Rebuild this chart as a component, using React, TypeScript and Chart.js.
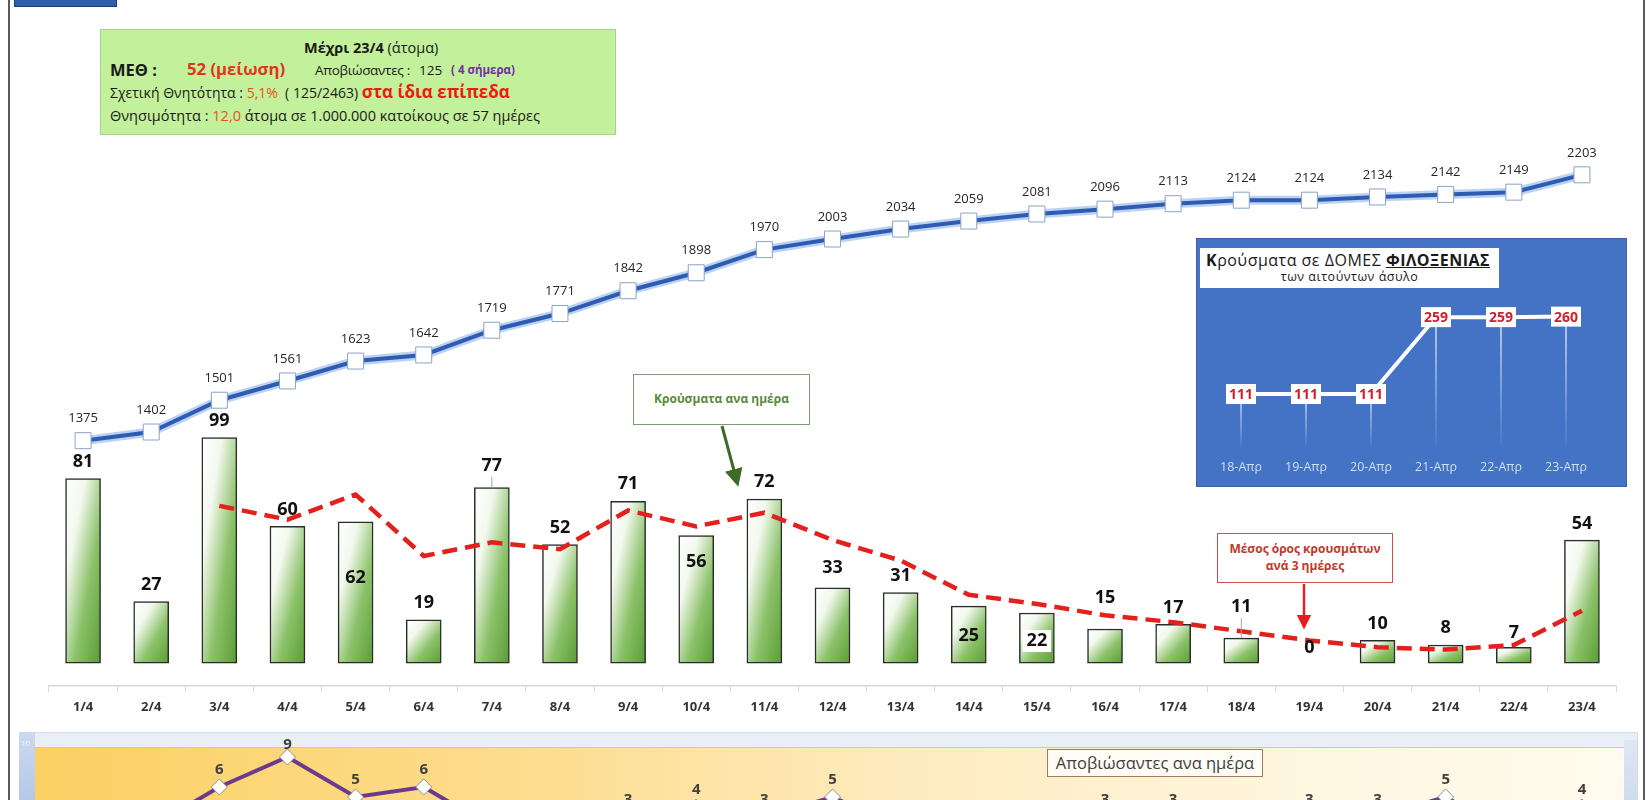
import React, { useEffect, useRef } from 'react';
import { Chart, registerables } from 'chart.js';

Chart.register(...registerables);

const FONT = "'Open Sans', 'Noto Sans', 'DejaVu Sans', sans-serif";

// ---------- data ----------
const dates = ['1/4', '2/4', '3/4', '4/4', '5/4', '6/4', '7/4', '8/4', '9/4', '10/4', '11/4', '12/4',
  '13/4', '14/4', '15/4', '16/4', '17/4', '18/4', '19/4', '20/4', '21/4', '22/4', '23/4'];
const cumulativeCases = [1375, 1402, 1501, 1561, 1623, 1642, 1719, 1771, 1842, 1898, 1970, 2003,
  2034, 2059, 2081, 2096, 2113, 2124, 2124, 2134, 2142, 2149, 2203];
const dailyCases = [81, 27, 99, 60, 62, 19, 77, 52, 71, 56, 72, 33, 31, 25, 22, 15, 17, 11, 0, 10, 8, 7, 54];
const avgThreeDays = [null, null, 69, 63, 74, 47, 53, 50, 67, 60, 66, 54, 45, 30, 26, 21, 18, 14, 10, 7, 6, 8, 23];
const dailyDeaths = [2, 2, 6, 9, 5, 6, 2, 1, 3, 4, 3, 5, 2, 1, 1, 3, 3, 2, 3, 3, 5, 1, 4];
const hostLabels = ['18-Απρ', '19-Απρ', '20-Απρ', '21-Απρ', '22-Απρ', '23-Απρ'];
const hostCases = [111, 111, 111, 259, 259, 260];

// ---------- label styling (pixel shifts of value labels; negative = above the mark) ----------
const barLabelShift: Record<number, number> = { 4: 56, 6: -22, 9: 26, 11: -20, 13: 30, 14: 28, 15: -31, 17: -31, 18: -15, 21: -14, 22: -16 };
const barLabelLeader: Record<number, boolean> = { 6: true, 17: true };
const barLabelBoxed: Record<number, boolean> = { 14: true };
const deathLabelShift: Record<number, number> = { 3: -12 };

const barFill = (c: any) => {
  const chart = c.chart;
  if (c.type !== 'data' || !chart.chartArea) return '#6aa84f';
  const xs = chart.scales.x;
  const ys = chart.scales.yBar;
  const x = xs.getPixelForValue(c.dataIndex);
  const top = ys.getPixelForValue(c.raw);
  const base = ys.getPixelForValue(0);
  const W = 35;
  const H = Math.max(1, base - top);
  const x0 = x - W / 2;
  const k = (2 * W * H) / (W * W + H * H);
  const g = chart.ctx.createLinearGradient(x0, top, x0 + H * k, top + W * k);
  g.addColorStop(0, '#ffffff');
  g.addColorStop(0.28, '#f3f9ee');
  g.addColorStop(0.62, '#8cc26a');
  g.addColorStop(1, '#5a9c36');
  return g;
};

const mainLabelsPlugin = {
  id: 'mainLabels',
  afterDatasetsDraw(chart: any) {
    const ctx = chart.ctx;
    ctx.save();
    const lineMeta = chart.getDatasetMeta(0);
    ctx.font = `13px ${FONT}`;
    ctx.fillStyle = '#262626';
    ctx.textAlign = 'center';
    ctx.textBaseline = 'middle';
    lineMeta.data.forEach((el: any, i: number) => {
      ctx.fillText(String(cumulativeCases[i]), el.x, el.y - 22);
    });
    const barMeta = chart.getDatasetMeta(3);
    ctx.font = `bold 18px ${FONT}`;
    barMeta.data.forEach((el: any, i: number) => {
      const shift = barLabelShift[i] !== undefined ? barLabelShift[i] : -17;
      const y = el.y + shift;
      const txt = String(dailyCases[i]);
      if (barLabelBoxed[i]) {
        const w = ctx.measureText(txt).width + 8;
        ctx.fillStyle = '#ffffff';
        ctx.fillRect(el.x - w / 2, y - 11, w, 22);
      }
      if (barLabelLeader[i]) {
        ctx.strokeStyle = '#a6a6a6';
        ctx.lineWidth = 1;
        ctx.beginPath();
        ctx.moveTo(el.x, y + 11);
        ctx.lineTo(el.x, el.y);
        ctx.stroke();
      }
      ctx.fillStyle = '#111111';
      ctx.fillText(txt, el.x, y);
    });
    ctx.restore();
  },
};

const deathLabelsPlugin = {
  id: 'deathLabels',
  afterDatasetsDraw(chart: any) {
    const ctx = chart.ctx;
    ctx.save();
    ctx.font = `bold 15px ${FONT}`;
    ctx.fillStyle = '#404040';
    ctx.textAlign = 'center';
    ctx.textBaseline = 'middle';
    chart.getDatasetMeta(0).data.forEach((el: any, i: number) => {
      const s = deathLabelShift[i] !== undefined ? deathLabelShift[i] : -17;
      ctx.fillText(String(dailyDeaths[i]), el.x, el.y + s);
    });
    ctx.restore();
  },
};

const hostPlugin = {
  id: 'hostDecor',
  beforeDatasetsDraw(chart: any) {
    const ctx = chart.ctx;
    const bottom = chart.chartArea.bottom;
    ctx.save();
    chart.getDatasetMeta(0).data.forEach((el: any) => {
      const g = ctx.createLinearGradient(0, el.y, 0, bottom);
      g.addColorStop(0, 'rgba(255,255,255,0.85)');
      g.addColorStop(1, 'rgba(255,255,255,0.05)');
      ctx.strokeStyle = g;
      ctx.lineWidth = 1.5;
      ctx.beginPath();
      ctx.moveTo(el.x, el.y);
      ctx.lineTo(el.x, bottom);
      ctx.stroke();
    });
    ctx.restore();
  },
  afterDatasetsDraw(chart: any) {
    const ctx = chart.ctx;
    ctx.save();
    ctx.font = `bold 14px ${FONT}`;
    ctx.textAlign = 'center';
    ctx.textBaseline = 'middle';
    chart.getDatasetMeta(0).data.forEach((el: any, i: number) => {
      ctx.fillStyle = '#ffffff';
      ctx.fillRect(el.x - 15, el.y - 10, 30, 20);
      ctx.fillStyle = '#d0202a';
      ctx.fillText(String(hostCases[i]), el.x, el.y + 1);
    });
    ctx.restore();
  },
};

export default function App() {
  const mainRef = useRef<HTMLCanvasElement>(null);
  const deathsRef = useRef<HTMLCanvasElement>(null);
  const hostRef = useRef<HTMLCanvasElement>(null);

  useEffect(() => {
    document.body.style.margin = '0';
    const charts: Chart[] = [];

    if (mainRef.current) {
      charts.push(new Chart(mainRef.current, {
        type: 'bar',
        data: {
          labels: dates,
          datasets: [
            {
              type: 'line', label: 'Σύνολο κρουσμάτων', data: cumulativeCases, yAxisID: 'yLine',
              borderColor: '#2d5cb2', borderWidth: 4, tension: 0,
              pointStyle: 'rect', pointRadius: 11.3, pointBackgroundColor: '#ffffff',
              pointBorderColor: '#8aa3c8', pointBorderWidth: 1, order: 0,
            },
            {
              type: 'line', label: 'glow', data: cumulativeCases, yAxisID: 'yLine',
              borderColor: 'rgba(120,165,230,0.5)', borderWidth: 9, tension: 0, pointRadius: 0, order: 1,
            },
            {
              type: 'line', label: 'Μέσος όρος 3 ημερών', data: avgThreeDays, yAxisID: 'yBar',
              borderColor: '#e3201b', borderWidth: 4.5, borderDash: [15, 8], tension: 0, pointRadius: 0, order: 2,
            },
            {
              type: 'bar', label: 'Κρούσματα ανα ημέρα', data: dailyCases, yAxisID: 'yBar',
              backgroundColor: barFill, borderColor: '#2b2b2b', borderWidth: 1.5, barThickness: 35,
              borderSkipped: false, order: 3,
            },
          ] as any,
        },
        options: {
          animation: false,
          responsive: false,
          maintainAspectRatio: false,
          layout: { padding: { left: 49, right: 34, top: 100, bottom: 0 } },
          plugins: { legend: { display: false }, tooltip: { enabled: false } },
          scales: {
            x: {
              offset: true,
              grid: { display: true, drawOnChartArea: false, drawTicks: true, tickLength: 6, color: '#d9d9d9', offset: true },
              border: { display: true, color: '#d9d9d9', width: 1.5 },
              ticks: { color: '#333333', font: { family: FONT, size: 13, weight: 'bold' }, padding: 7, maxRotation: 0, autoSkip: false },
              afterFit: (s: any) => { s.height = 44; },
            },
            yBar: { type: 'linear', display: false, min: -10, max: 247 },
            yLine: { type: 'linear', display: false, min: 611, max: 2436 },
          },
        } as any,
        plugins: [mainLabelsPlugin],
      }));
    }

    if (deathsRef.current) {
      charts.push(new Chart(deathsRef.current, {
        type: 'line',
        data: {
          labels: dates,
          datasets: [{
            label: 'Αποβιώσαντες ανα ημέρα', data: dailyDeaths, borderColor: '#6b3a8e', borderWidth: 4, tension: 0,
            pointStyle: 'rectRot', pointRadius: 8, pointBackgroundColor: '#ffffff', pointBorderColor: '#8c8c8c',
            pointBorderWidth: 1, clip: false,
          }] as any,
        },
        options: {
          animation: false,
          responsive: false,
          maintainAspectRatio: false,
          layout: { padding: { left: 49, right: 34, top: 47, bottom: 53 } },
          plugins: { legend: { display: false }, tooltip: { enabled: false } },
          scales: {
            x: { display: false, offset: true },
            y: { display: false, min: 0, max: 10 },
          },
        } as any,
        plugins: [deathLabelsPlugin],
      }));
    }

    if (hostRef.current) {
      charts.push(new Chart(hostRef.current, {
        type: 'line',
        data: {
          labels: hostLabels,
          datasets: [{ label: 'Δομές φιλοξενίας', data: hostCases, borderColor: '#ffffff', borderWidth: 4, tension: 0, pointRadius: 0 }],
        },
        options: {
          animation: false,
          responsive: false,
          maintainAspectRatio: false,
          layout: { padding: { left: 12.5, right: 28.5, top: 62, bottom: 0 } },
          plugins: { legend: { display: false }, tooltip: { enabled: false } },
          scales: {
            x: {
              offset: true,
              grid: { display: false, drawTicks: false },
              border: { display: false },
              ticks: { color: '#d3def3', font: { family: FONT, size: 12.5 }, padding: 13, maxRotation: 0 },
              afterFit: (s: any) => { s.height = 40; },
            },
            y: { display: false, min: 9, max: 292 },
          },
        } as any,
        plugins: [hostPlugin],
      }));
    }

    return () => charts.forEach((c) => c.destroy());
  }, []);

  const abs = (l: number, t: number, extra: React.CSSProperties = {}): React.CSSProperties => ({
    position: 'absolute', left: l, top: t, whiteSpace: 'nowrap', lineHeight: '20px', ...extra,
  });
  const reg3: React.CSSProperties = { fontSize: 14 };
  const reg4: React.CSSProperties = { fontSize: 14.5 };

  return (
    <div style={{ position: 'absolute', left: 0, top: 0, width: 1650, height: 800, overflow: 'hidden', background: '#ffffff', fontFamily: FONT }}>
      {/* page frame */}
      <div style={{ position: 'absolute', left: 8, top: 0, width: 2, height: 800, background: '#5a5a5a' }} />
      <div style={{ position: 'absolute', left: 1643, top: 0, width: 2, height: 800, background: '#5a5a5a' }} />
      <div style={{ position: 'absolute', left: 14, top: 0, width: 101, height: 6, background: '#2f5fa8', border: '1px solid #1d3d6e', borderTop: 'none' }} />

      {/* info box */}
      <div style={{ position: 'absolute', left: 100, top: 29, width: 516, height: 106, background: '#c3f09b', border: '1px solid #a9cf8a', boxSizing: 'border-box', color: '#1a1a1a' }}>
        <div style={abs(203, 8, { fontSize: 14.5 })}><b>Μέχρι 23/4</b> (άτομα)</div>
        <div style={abs(9, 30, { fontSize: 16.5, fontWeight: 'bold' })}>ΜΕΘ :</div>
        <div style={abs(86, 29, { fontSize: 16.7, fontWeight: 'bold', color: '#e5321c' })}>52 (μείωση)</div>
        <div style={abs(214, 30, { fontSize: 13.5, letterSpacing: -0.3 })}>Αποβιώσαντες :</div>
        <div style={abs(318, 30, { fontSize: 13.5 })}>125</div>
        <div style={abs(350, 30, { fontSize: 11.5, fontWeight: 'bold', color: '#7030a0' })}>( 4 σήμερα)</div>
        <div style={abs(9, 52, {})}>
          <span style={reg3}>Σχετική Θνητότητα : </span>
          <span style={{ ...reg3, color: '#e5531f' }}>5,1%</span>
          <span style={reg3}>{'\u00a0\u00a0( 125/2463) '}</span>
          <span style={{ fontSize: 17, fontWeight: 'bold', color: '#ee1b12' }}>στα ίδια επίπεδα</span>
        </div>
        <div style={abs(9, 75, {})}>
          <span style={reg4}>Θνησιμότητα : </span>
          <span style={{ ...reg4, color: '#e5531f' }}>12,0</span>
          <span style={reg4}> άτομα σε 1.000.000 κατοίκους σε 57 ημέρες</span>
        </div>
      </div>

      {/* bottom deaths panel background */}
      <div style={{ position: 'absolute', left: 19, top: 732, width: 1619, height: 100, background: 'linear-gradient(#e9eef6, #f5f7fb)', border: '1px solid #d8dee8', boxSizing: 'border-box' }} />
      <div style={{ position: 'absolute', left: 19, top: 732, width: 16, height: 100, background: 'linear-gradient(#cbd9ee, #a9c1e6)' }} />
      <div style={{ position: 'absolute', left: 1624, top: 740, width: 13, height: 100, background: 'linear-gradient(#dfe7f3, #c4d4ec)' }} />
      <div style={{ position: 'absolute', left: 21, top: 737, fontSize: 8, color: '#f4f7fc' }}>10</div>
      <div style={{ position: 'absolute', left: 35, top: 747, width: 1589, height: 80, background: 'linear-gradient(to right, #fbd064 0%, #fddc8c 30%, #feebbf 55%, #fff6e0 80%, #fffbee 100%)', borderTop: '1px solid #e8c77a' }} />

      {/* charts */}
      <canvas ref={mainRef} width={1650} height={730} style={{ position: 'absolute', left: 0, top: 0, display: 'block' }} />
      <canvas ref={deathsRef} width={1650} height={200} style={{ position: 'absolute', left: 0, top: 700, display: 'block' }} />

      <div style={{ position: 'absolute', left: 1047, top: 749, width: 216, height: 28, boxSizing: 'border-box', border: '1.5px solid #a27d5c', background: '#fffdf6', color: '#404040', fontSize: 16.5, lineHeight: '25px', textAlign: 'center', whiteSpace: 'nowrap' }}>Αποβιώσαντες ανα ημέρα</div>

      {/* inset: hosting structures */}
      <div style={{ position: 'absolute', left: 1196, top: 238, width: 431, height: 249, background: '#4472c4', border: '1px solid #3a63ab', boxSizing: 'border-box' }}>
        <canvas ref={hostRef} width={431} height={249} style={{ position: 'absolute', left: -1, top: -1, display: 'block' }} />
        <div style={{ position: 'absolute', left: 3, top: 9, width: 299, height: 40, background: '#ffffff', color: '#1a1a1a' }}>
          <div style={{ position: 'absolute', left: 6, top: 2, fontSize: 16, lineHeight: '20px', whiteSpace: 'nowrap', letterSpacing: 0.5 }}>
            <b>Κ</b>ρούσματα σε ΔΟΜΕΣ <b style={{ textDecoration: 'underline' }}>ΦΙΛΟΞΕΝΙΑΣ</b>
          </div>
          <div style={{ position: 'absolute', left: 0, width: 299, top: 20, fontSize: 12.5, lineHeight: '18px', textAlign: 'center', whiteSpace: 'nowrap', letterSpacing: 0.5 }}>των αιτούντων άσυλο</div>
        </div>
      </div>

      {/* callouts */}
      <div style={{ position: 'absolute', left: 633, top: 374, width: 177, height: 51, boxSizing: 'border-box', border: '1.5px solid #7f9a70', background: '#ffffff', color: '#5a8a3a', fontSize: 12, fontWeight: 'bold', lineHeight: '48px', textAlign: 'center', whiteSpace: 'nowrap' }}>Κρούσματα ανα ημέρα</div>
      <div style={{ position: 'absolute', left: 1217, top: 533, width: 176, height: 50, boxSizing: 'border-box', border: '1.5px solid #c9524d', background: '#ffffff', color: '#c0392b', fontSize: 12, fontWeight: 'bold', lineHeight: '17px', textAlign: 'center', paddingTop: 6, whiteSpace: 'nowrap' }}>
        Μέσος όρος κρουσμάτων<br />ανά 3 ημέρες
      </div>
      <svg width={1650} height={800} style={{ position: 'absolute', left: 0, top: 0, pointerEvents: 'none' }}>
        <defs>
          <marker id="ag" markerWidth="6" markerHeight="6" refX="3" refY="3" orient="auto" markerUnits="strokeWidth">
            <path d="M0,0 L6,3 L0,6 z" fill="#3d6b25" />
          </marker>
          <marker id="ar" markerWidth="6" markerHeight="6" refX="3" refY="3" orient="auto" markerUnits="strokeWidth">
            <path d="M0,0 L6,3 L0,6 z" fill="#e41f1f" />
          </marker>
        </defs>
        <line x1={722} y1={426} x2={736} y2={478} stroke="#3d6b25" strokeWidth={3} markerEnd="url(#ag)" />
        <line x1={1304} y1={584} x2={1304} y2={622} stroke="#e41f1f" strokeWidth={2.5} markerEnd="url(#ar)" />
      </svg>
    </div>
  );
}
